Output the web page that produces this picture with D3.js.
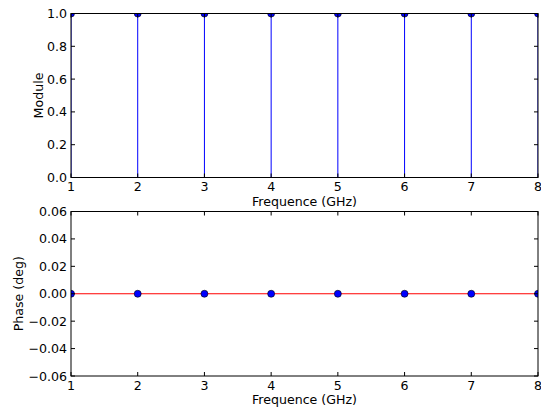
<!DOCTYPE html>
<html><head><meta charset="utf-8">
<script src="https://cdn.jsdelivr.net/npm/d3@7"></script>
<style>body{margin:0;background:#fff}svg{display:block}text{font-family:"DejaVu Sans",sans-serif;}</style>
</head><body>
<script>
const freqs = [1, 2, 3, 4, 5, 6, 7, 8];
const moduleValues = [1, 1, 1, 1, 1, 1, 1, 1];
const phaseValues = [0, 0, 0, 0, 0, 0, 0, 0];
const xTicks = [1, 2, 3, 4, 5, 6, 7, 8];
const moduleTicks = [0.0, 0.2, 0.4, 0.6, 0.8, 1.0];
const phaseTicks = [-0.06, -0.04, -0.02, 0.0, 0.02, 0.04, 0.06];

const W = 541, H = 409;
const svg = d3.select("body").append("svg").attr("width", W).attr("height", H);
const left = 71, right = 538;
const FS = 12.6;
const x = d3.scaleLinear().domain([1, 8]).range([left, right]);

function panel(id, top, bottom, yDomain, yTicks, yFmt, vals, ylabel, ylabelX) {
  const y = d3.scaleLinear().domain(yDomain).range([bottom, top]);
  const g = svg.append("g");
  svg.append("clipPath").attr("id", id).append("rect")
    .attr("x", left).attr("y", top).attr("width", right - left).attr("height", bottom - top);
  const cg = g.append("g").attr("clip-path", `url(#${id})`);
  cg.selectAll("line.stem").data(freqs).enter().append("line")
    .attr("x1", d => x(d)).attr("x2", d => x(d))
    .attr("y1", y(0)).attr("y2", (d, i) => y(vals[i]))
    .attr("stroke", "#0000ff").attr("stroke-width", 1);
  cg.append("line").attr("x1", x(1)).attr("x2", x(8)).attr("y1", y(0)).attr("y2", y(0))
    .attr("stroke", "#ff0000").attr("stroke-width", 1);
  cg.selectAll("circle").data(freqs).enter().append("circle")
    .attr("cx", d => x(d)).attr("cy", (d, i) => y(vals[i])).attr("r", 3.5)
    .attr("fill", "#0000ff").attr("stroke", "#000").attr("stroke-width", 0.6);
  g.append("rect").attr("x", left).attr("y", top).attr("width", right - left).attr("height", bottom - top)
    .attr("fill", "none").attr("stroke", "#000").attr("stroke-width", 1);
  const tl = 4;
  xTicks.forEach(t => {
    g.append("line").attr("x1", x(t)).attr("x2", x(t)).attr("y1", bottom).attr("y2", bottom - tl).attr("stroke", "#000");
    g.append("line").attr("x1", x(t)).attr("x2", x(t)).attr("y1", top).attr("y2", top + tl).attr("stroke", "#000");
    g.append("text").attr("x", x(t)).attr("y", bottom + 13.5).attr("text-anchor", "middle")
      .attr("font-size", FS).text(t);
  });
  yTicks.forEach(t => {
    g.append("line").attr("x1", left).attr("x2", left + tl).attr("y1", y(t)).attr("y2", y(t)).attr("stroke", "#000");
    g.append("line").attr("x1", right).attr("x2", right - tl).attr("y1", y(t)).attr("y2", y(t)).attr("stroke", "#000");
    g.append("text").attr("x", left - 4).attr("y", y(t) + 4.5).attr("text-anchor", "end")
      .attr("font-size", FS).text(yFmt(t));
  });
  g.append("text").attr("x", (left + right) / 2).attr("y", bottom + 28).attr("text-anchor", "middle")
    .attr("font-size", FS).text("Frequence (GHz)");
  g.append("text").attr("transform", `translate(${ylabelX},${(top + bottom) / 2}) rotate(-90)`)
    .attr("text-anchor", "middle").attr("dominant-baseline", "central").attr("font-size", FS).text(ylabel);
}

const fmt1 = d => d3.format(".1f")(d);
const fmt2 = d => (d < 0 ? "\u2212" : "") + d3.format(".2f")(Math.abs(d));
panel("c1", 13.5, 177.5, [0, 1], moduleTicks, fmt1, moduleValues, "Module", 38);
panel("c2", 211.5, 376, [-0.06, 0.06], phaseTicks, fmt2, phaseValues, "Phase (deg)", 18);
</script>
</body></html>
